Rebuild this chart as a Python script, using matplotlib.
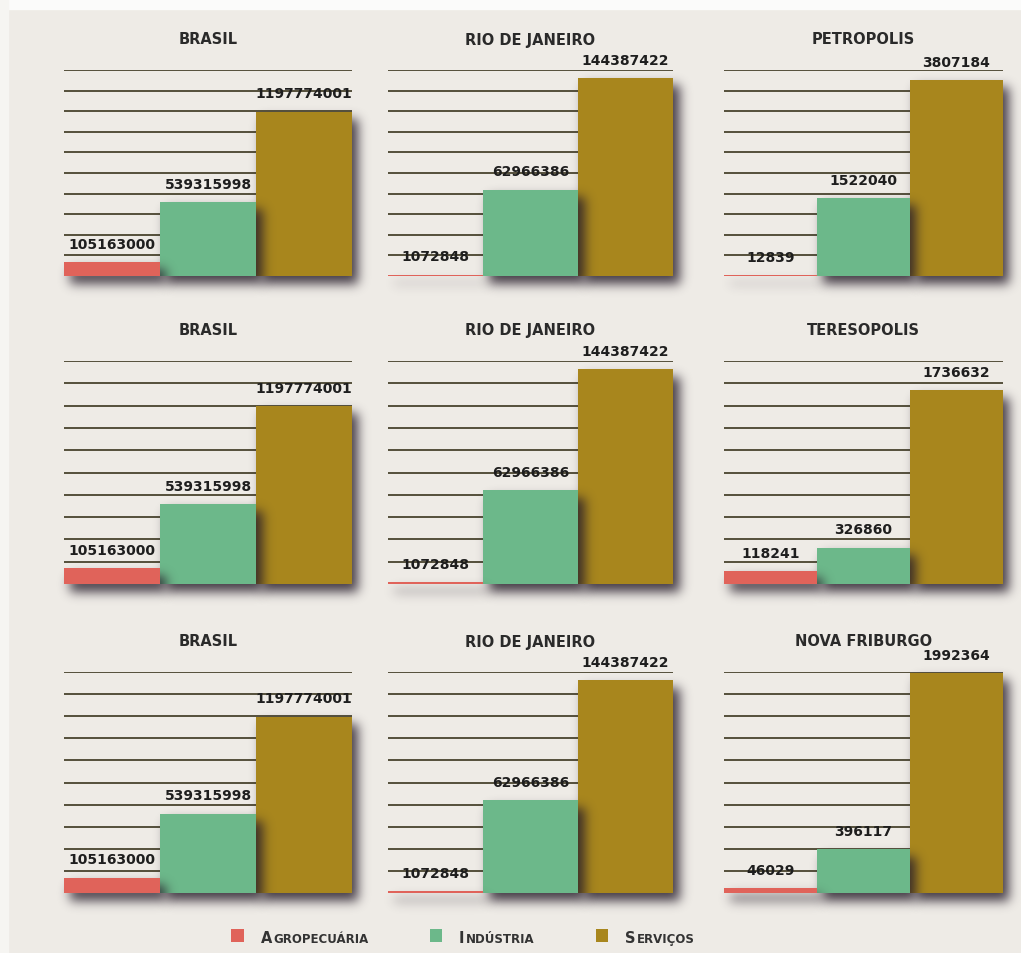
import numpy as np
import matplotlib
matplotlib.use("Agg")
import matplotlib.pyplot as plt
from matplotlib.patches import Rectangle
from matplotlib.offsetbox import HPacker, TextArea, DrawingArea, AnchoredOffsetbox

# ---- data ----
sectors = ["Agropecuária", "Indústria", "Serviços"]
legend_labels = ["AGROPECUÁRIA", "INDÚSTRIA", "SERVIÇOS"]

brasil = [105163000, 539315998, 1197774001]
rio_de_janeiro = [1072848, 62966386, 144387422]
petropolis = [12839, 1522040, 3807184]
teresopolis = [118241, 326860, 1736632]
nova_friburgo = [46029, 396117, 1992364]

# top of the value scale for each region (ten equal grid steps below it)
scale_brasil = 1.5e9
scale_rio = 1.5e8
scale_petropolis = 4.0e6
scale_teresopolis = 2.0e6
scale_nova_friburgo = 2.0e6

panels = [
    [("BRASIL", brasil, scale_brasil), ("RIO DE JANEIRO", rio_de_janeiro, scale_rio),
     ("PETROPOLIS", petropolis, scale_petropolis)],
    [("BRASIL", brasil, scale_brasil), ("RIO DE JANEIRO", rio_de_janeiro, scale_rio),
     ("TERESOPOLIS", teresopolis, scale_teresopolis)],
    [("BRASIL", brasil, scale_brasil), ("RIO DE JANEIRO", rio_de_janeiro, scale_rio),
     ("NOVA FRIBURGO", nova_friburgo, scale_nova_friburgo)],
]

# ---- style ----
colors = ["#e0635a", "#6cb88a", "#a8861d"]
bg = "#eeebe6"
grid_color = "#4f4934"
text_color = "#2a2a2a"
shadow_rgb = (0.16, 0.12, 0.17)

W, H = 1021, 954
fig = plt.figure(figsize=(W / 100, H / 100), dpi=100, facecolor=bg)
# pale frame strips along the top and left edges
fig.patches.append(Rectangle((0, (H - 10) / H), 1, 10 / H, transform=fig.transFigure,
                             color="#fbfbfa", zorder=-10))
fig.patches.append(Rectangle((0, 0), 8 / W, 1, transform=fig.transFigure,
                             color="#f6f5f2", zorder=-10))

col_px = [(64, 352), (388, 673), (724, 1003)]
row_px = [(71, 277), (362, 585), (673, 894)]


def px_axes(x0, x1, ytop, ybase):
    ax = fig.add_axes([x0 / W, 1 - ybase / H, (x1 - x0) / W, (ybase - ytop) / H])
    ax.patch.set_visible(False)
    return ax


def gaussian_blur(a, sigma):
    r = int(3 * sigma)
    k = np.exp(-0.5 * (np.arange(-r, r + 1) / sigma) ** 2)
    k /= k.sum()
    a = np.apply_along_axis(lambda v: np.convolve(v, k, mode="same"), 0, a)
    a = np.apply_along_axis(lambda v: np.convolve(v, k, mode="same"), 1, a)
    return a


def bar_shadow(ax, i, value, zorder, dx=6, dy=-8, sigma=5.5, strength=0.85):
    (px0, py0) = ax.transData.transform((i - 0.5, 0))
    (px1, py1) = ax.transData.transform((i + 0.5, value))
    m = 20
    gx0, gx1 = px0 + dx - m, px1 + dx + m
    gy0, gy1 = py0 + dy - m, py1 + dy + m
    nx, ny = int(round(gx1 - gx0)), int(round(gy1 - gy0))
    mask = np.zeros((ny, nx))
    mask[m:ny - m, m:nx - m] = 1.0
    alpha = np.clip(gaussian_blur(mask, sigma) * strength, 0, 1)
    rgba = np.zeros((ny, nx, 4))
    rgba[..., 0], rgba[..., 1], rgba[..., 2] = shadow_rgb
    rgba[..., 3] = alpha
    inv = ax.transData.inverted()
    (dx0, dy0) = inv.transform((gx0, gy0))
    (dx1, dy1) = inv.transform((gx1, gy1))
    im = ax.imshow(rgba, extent=(dx0, dx1, dy0, dy1), origin="lower",
                   aspect="auto", interpolation="bilinear", zorder=zorder)
    im.set_clip_on(False)


for r, row in enumerate(panels):
    for c, (title, values, top) in enumerate(row):
        x0, x1 = col_px[c]
        ytop, ybase = row_px[r]
        ax = px_axes(x0, x1, ytop, ybase)
        ax.set_xlim(-0.5, 2.5)
        ax.set_ylim(0, top)
        ax.axis("off")

        for k in range(1, 11):
            ax.axhline(top * k / 10, color=grid_color, lw=1.35, zorder=1)

        # right-most bar first so each bar's shadow falls on its neighbour
        for i in (2, 1, 0):
            z = 2 + (2 - i) * 2
            bar_shadow(ax, i, values[i], zorder=z)
            ax.bar(i, values[i], width=1.0, color=colors[i], zorder=z + 0.5,
                   linewidth=0)
        ax.set_xlim(-0.5, 2.5)
        ax.set_ylim(0, top)

        for i, v in enumerate(values):
            ax.annotate(f"{v}", (i, v), xytext=(0, 13), textcoords="offset points",
                        ha="center", va="center", fontsize=10, fontweight="bold",
                        color="#1e1e1e", zorder=10, annotation_clip=False)

        ax.text(0.5, 1 + 31 / (ybase - ytop), title, transform=ax.transAxes,
                ha="center", va="center", fontsize=10.5, fontweight="bold",
                color=text_color)

# ---- legend in small caps ----
items = []
for lab, col in zip(legend_labels, colors):
    sq = DrawingArea(9, 9, 0, 0)
    sq.add_artist(Rectangle((0, 0), 9, 9, color=col, lw=0))
    first = TextArea(lab[0], textprops=dict(fontsize=10.5, color="#333333",
                                            fontweight="bold"))
    rest = TextArea(lab[1:], textprops=dict(fontsize=8.5, color="#333333",
                                            fontweight="bold"))
    word = HPacker(children=[first, rest], align="baseline", pad=0, sep=1)
    items.append(HPacker(children=[sq, word], align="baseline", pad=0, sep=12))
legend_box = HPacker(children=items, align="baseline", pad=0, sep=44)
anchored = AnchoredOffsetbox(loc="center", child=legend_box, frameon=False,
                             bbox_to_anchor=(463 / W, 1 - 938 / H),
                             bbox_transform=fig.transFigure, pad=0, borderpad=0)
fig.add_artist(anchored)

fig.savefig("out.png", dpi=100, facecolor=fig.get_facecolor())
